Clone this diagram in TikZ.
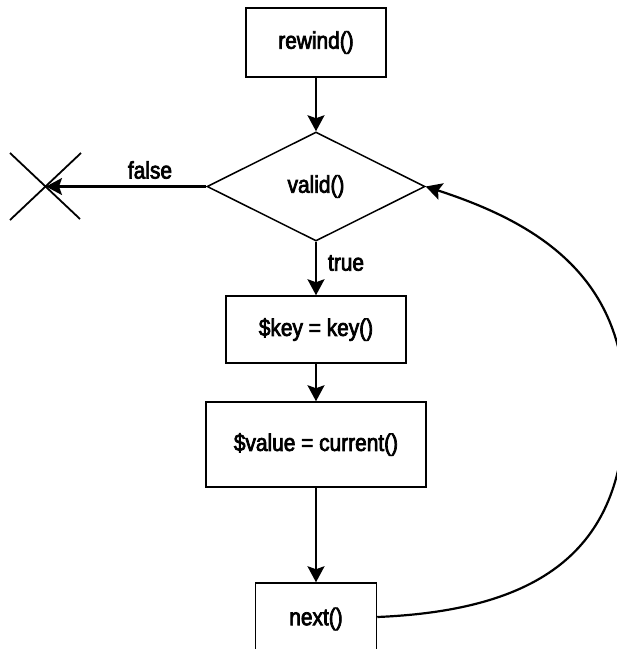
\documentclass[tikz,border=0pt]{standalone}
\usepackage{fontspec}
\setmainfont{Liberation Sans}[FakeStretch=0.87,FakeBold=3]
\usetikzlibrary{shapes.geometric,arrows.meta}
\begin{document}
\begin{tikzpicture}[x=1pt,y=-1pt,
  every node/.style={font=\fontsize{24}{28}\selectfont, text=black},
  box/.style={draw=black, line width=1.5pt, inner sep=0pt, anchor=center},
  dia/.style={draw=black, line width=1.5pt, diamond, inner sep=0pt, minimum width=218pt, minimum height=109pt},
  flow/.style={line width=2.2pt, -{Stealth[length=16pt,width=17pt,inset=3pt]}},
  cross/.style={line width=1.8pt},
  lbl/.style={inner sep=0pt}
]
\useasboundingbox (0,0) rectangle (617,649);
\node[box, minimum width=140pt, minimum height=69pt] (rewind) at (316,42.5) {rewind()};
\node[dia] (valid) at (316,186.5) {valid()};
\node[box, minimum width=180pt, minimum height=67pt] (key) at (316,329.5) {\$key = key()};
\node[box, minimum width=220pt, minimum height=85pt] (value) at (316,444.5) {\$value = current()};
\node[box, minimum width=121pt, minimum height=72pt] (next) at (316,619) {next()};
\node[box, draw=none, minimum width=121pt, minimum height=68pt] (nexttext) at (316,617) {};
\coordinate (xmark) at (46,186.5);
\coordinate (loop) at (625,405);
\draw[cross] (10,153) -- (80,219);
\draw[cross] (81,153) -- (10,220);
\draw[flow] (rewind.south) -- (valid.north);
\draw[flow] (valid.west) -- (xmark);
\draw[flow] (valid.south) -- (key.north);
\draw[flow] (key.south) -- (value.north);
\draw[flow] (value.south) -- (next.north);
\draw[flow] (nexttext.east) .. controls (547,610) and (625,545) .. (loop)
  .. controls (625,275) and (535,222) .. (valid.east);
\node[lbl] (falselbl) at (150,170) {false};
\node[lbl] (truelbl) at (346,263) {true};
\end{tikzpicture}
\end{document}
